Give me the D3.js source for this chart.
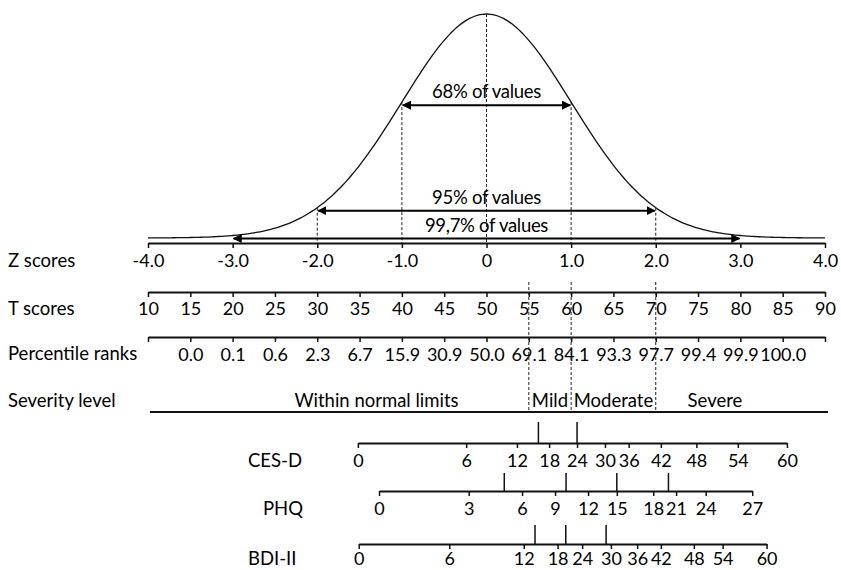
<!DOCTYPE html>
<html lang="en">
<head>
<meta charset="utf-8">
<title>Normal distribution and depression scales</title>
<script src="https://d3js.org/d3.v7.min.js"></script>
<style>
  body { margin: 0; background: #fff; }
  svg { display: block; font-family: Lato, "Open Sans", sans-serif; }
  text { fill: #000; }
  .axis .domain { stroke: #111; stroke-width: 2; }
  .axis .tick line { stroke: #111; stroke-width: 1.5; }
  .axis .tick text { font-size: 18px; fill: #000; font-family: Lato, sans-serif; }
  .rowlabel { font-size: 18.5px; }
  .guide { stroke: #222; stroke-width: 1; stroke-dasharray: 3,2; fill: none; }
  .arrow { stroke: #000; stroke-width: 2; }
  .marker { stroke: #111; stroke-width: 1.5; }
</style>
</head>
<body>
<svg id="chart" width="841" height="570"></svg>
<script>
// ---- data ----
var zTicks = [-4, -3, -2, -1, 0, 1, 2, 3, 4];
var tTicks = [10, 15, 20, 25, 30, 35, 40, 45, 50, 55, 60, 65, 70, 75, 80, 85, 90];
var percentileT = [15, 20, 25, 30, 35, 40, 45, 50, 55, 60, 65, 70, 75, 80, 85];
var percentileLabels = ["0.0", "0.1", "0.6", "2.3", "6.7", "15.9", "30.9", "50.0",
                        "69.1", "84.1", "93.3", "97.7", "99.4", "99.9", "100.0"];

var coverageZ = [1, 2, 3];
var coverageLabels = ["68% of values", "95% of values", "99,7% of values"];

var severityNames = ["Within normal limits", "Mild", "Moderate", "Severe"];
var severityCutsT = [55, 60, 70];
var severityLabelT = [37, 57.5, 65, 77];

// raw scores and the T score they line up with
var cesdScores = [0, 6, 12, 18, 24, 30, 36, 42, 48, 54, 60];
var cesdT = [34.8, 47.6, 53.6, 57.4, 60.7, 64.0, 66.8, 70.6, 74.8, 79.7, 85.5];
var cesdCutoffs = [16, 24];

var phqScores = [0, 3, 6, 9, 12, 15, 18, 21, 24, 27];
var phqT = [37.3, 47.9, 54.2, 58.1, 62.0, 65.4, 69.7, 72.4, 75.9, 81.4];
var phqCutoffs = [5, 10, 15, 20];

var bdiScores = [0, 6, 12, 18, 24, 30, 36, 42, 48, 54, 60];
var bdiT = [34.9, 45.6, 54.4, 58.4, 61.3, 64.7, 67.8, 70.6, 74.5, 77.9, 83.1];
var bdiCutoffs = [14, 20, 29];

// ---- layout ----
var svg = d3.select("#chart");

var x = d3.scaleLinear().domain([-4, 4]).range([148, 825]);
var tScale = d3.scaleLinear().domain([10, 90]).range([148, 825]);

function pdf(z) { return Math.exp(-z * z / 2) / Math.sqrt(2 * Math.PI); }
var y = d3.scaleLinear().domain([0, pdf(0)]).range([238, 14]);

var zAxisY = 243, tAxisY = 292, pAxisY = 337, sevY = 412;

// arrow heads
var defs = svg.append("defs");
defs.append("marker")
    .attr("id", "head")
    .attr("viewBox", "0 0 10 10")
    .attr("refX", 9).attr("refY", 5)
    .attr("markerWidth", 4.5).attr("markerHeight", 4.5)
    .attr("orient", "auto-start-reverse")
    .append("path")
    .attr("d", "M0,0L10,5L0,10z")
    .attr("fill", "#000");

// bell curve
var curvePts = d3.range(-4, 4.0001, 0.05);
svg.append("path")
    .datum(curvePts)
    .attr("fill", "none")
    .attr("stroke", "#111")
    .attr("stroke-width", 1.3)
    .attr("d", d3.line()
        .x(function(d) { return x(d); })
        .y(function(d) { return y(pdf(d)); })
        .curve(d3.curveMonotoneX));

// dashed verticals under the curve
svg.selectAll(".zguide")
    .data([-2, -1, 0, 1, 2])
    .enter().append("line")
    .attr("class", "guide")
    .attr("x1", function(d) { return x(d); })
    .attr("x2", function(d) { return x(d); })
    .attr("y1", function(d) { return y(pdf(d)); })
    .attr("y2", zAxisY);

// coverage arrows
var cov = svg.selectAll(".cov")
    .data(coverageZ)
    .enter().append("g");

cov.append("line")
    .attr("class", "arrow")
    .attr("x1", function(d) { return x(-d) + 1; })
    .attr("x2", function(d) { return x(d) - 1; })
    .attr("y1", function(d) { return y(pdf(d)) + 3; })
    .attr("y2", function(d) { return y(pdf(d)) + 3; })
    .attr("marker-start", "url(#head)")
    .attr("marker-end", "url(#head)");

cov.append("text")
    .attr("x", x(0))
    .attr("y", function(d) { return y(pdf(d)) - 4; })
    .attr("text-anchor", "middle")
    .style("font-size", "18.5px")
    .style("letter-spacing", "-0.3px")
    .text(function(d, i) { return coverageLabels[i]; });

// Z axis
svg.append("g")
    .attr("class", "axis")
    .attr("transform", "translate(0," + zAxisY + ")")
    .call(d3.axisBottom(x).tickValues(zTicks).tickSize(5).tickPadding(6).tickSizeOuter(0)
        .tickFormat(function(d) { return d === 0 ? "0" : d.toFixed(1); }));

// T axis
svg.append("g")
    .attr("class", "axis")
    .attr("transform", "translate(0," + tAxisY + ")")
    .call(d3.axisBottom(tScale).tickValues(tTicks).tickSize(5).tickPadding(5).tickSizeOuter(0)
        .tickFormat(d3.format("d")));

// percentile axis
svg.append("g")
    .attr("class", "axis")
    .attr("transform", "translate(0," + pAxisY + ")")
    .call(d3.axisBottom(tScale).tickValues(tTicks).tickSize(5).tickPadding(6).tickSizeOuter(0)
        .tickFormat(function(d) {
            var i = percentileT.indexOf(d);
            return i < 0 ? "" : percentileLabels[i];
        }));

// severity line and cut guides
svg.append("line")
    .attr("x1", tScale(10) + 2).attr("x2", tScale(90) + 3)
    .attr("y1", sevY).attr("y2", sevY)
    .attr("stroke", "#111").attr("stroke-width", 2);

svg.selectAll(".sevguide")
    .data(severityCutsT)
    .enter().append("line")
    .attr("class", "guide")
    .attr("x1", function(d) { return tScale(d); })
    .attr("x2", function(d) { return tScale(d); })
    .attr("y1", 282)
    .attr("y2", sevY);

svg.selectAll(".sevlabel")
    .data(severityNames)
    .enter().append("text")
    .attr("x", function(d, i) { return tScale(severityLabelT[i]); })
    .attr("y", sevY - 5)
    .attr("text-anchor", "middle")
    .style("font-size", "18.5px")
    .text(function(d) { return d; });

// questionnaire scales, mapped onto T scores
function scoreScale(scores, tEq, cutoffs, axisY, markH, pad) {
    var s = d3.scaleLinear().domain(scores).range(tEq.map(tScale));
    svg.append("g")
        .attr("class", "axis")
        .attr("transform", "translate(0," + axisY + ")")
        .call(d3.axisBottom(s).tickValues(scores).tickSize(5).tickPadding(pad).tickSizeOuter(0)
            .tickFormat(d3.format("d")));
    svg.selectAll(null)
        .data(cutoffs)
        .enter().append("line")
        .attr("class", "marker")
        .attr("x1", function(d) { return s(d); })
        .attr("x2", function(d) { return s(d); })
        .attr("y1", axisY - markH)
        .attr("y2", axisY);
}

scoreScale(cesdScores, cesdT, cesdCutoffs, 443, 21, 6);
scoreScale(phqScores, phqT, phqCutoffs, 491, 18, 6);
scoreScale(bdiScores, bdiT, bdiCutoffs, 544, 19, 3);

// row labels
var rows = [
    { text: "Z scores", x: 8, y: 267 },
    { text: "T scores", x: 8, y: 315 },
    { text: "Percentile ranks", x: 8, y: 360 },
    { text: "Severity level", x: 8, y: 407 },
    { text: "CES-D", x: 248, y: 467 },
    { text: "PHQ", x: 263, y: 515 },
    { text: "BDI-II", x: 248, y: 565 }
];
svg.selectAll(".rowlabel")
    .data(rows)
    .enter().append("text")
    .attr("class", "rowlabel")
    .attr("x", function(d) { return d.x; })
    .attr("y", function(d) { return d.y; })
    .text(function(d) { return d.text; });
</script>
</body>
</html>
